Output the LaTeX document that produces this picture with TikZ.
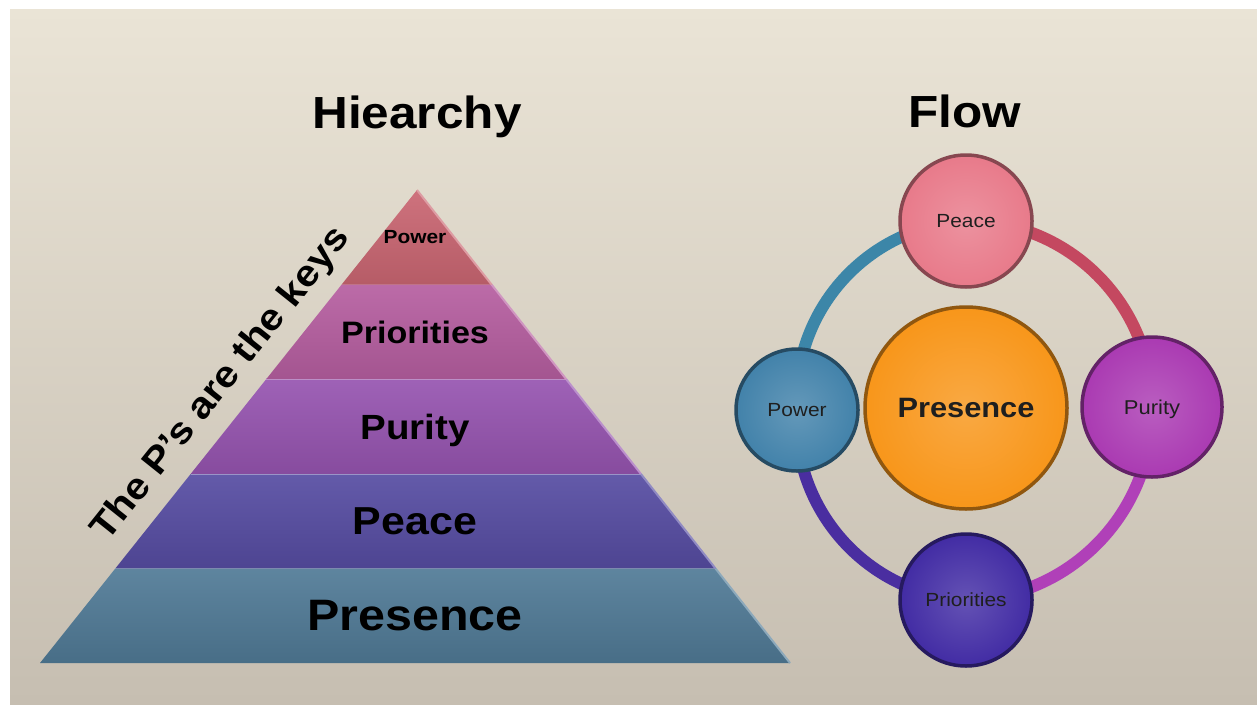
\documentclass[tikz,border=0pt]{standalone}
\usepackage{fontspec}
\setmainfont{Liberation Sans}[FakeStretch=1.1]
\usetikzlibrary{calc}
\definecolor{BgTop}{RGB}{234,228,214}
\definecolor{BgBot}{RGB}{198,190,177}
\definecolor{BandPower}{RGB}{202,102,114}
\definecolor{BandPrio}{RGB}{182,94,160}
\definecolor{BandPurity}{RGB}{150,84,176}
\definecolor{BandPeace}{RGB}{86,76,162}
\definecolor{BandPres}{RGB}{80,122,150}
\definecolor{BallPeace}{RGB}{232,122,138}
\definecolor{BallPower}{RGB}{66,130,170}
\definecolor{BallPurity}{RGB}{170,58,178}
\definecolor{BallPrio}{RGB}{66,44,164}
\definecolor{BallPres}{RGB}{248,150,26}
\definecolor{ArcBlue}{RGB}{60,134,168}
\definecolor{ArcRed}{RGB}{196,72,96}
\definecolor{ArcMag}{RGB}{176,64,184}
\definecolor{ArcInd}{RGB}{74,46,160}
\pgfdeclarelayer{back}
\pgfdeclarelayer{ring}
\pgfsetlayers{back,ring,main}

\begin{document}
\begin{tikzpicture}[x=1pt,y=-1pt,
    lbl/.style={text depth=0pt,inner sep=0pt},
    title/.style={font=\bfseries\fontsize{45}{45}\selectfont,anchor=base},
    pball/.style args={#1/#2}{circle,minimum size=#2,inner sep=0pt,line width=3.5pt,
      draw=#1!58!black,shade,inner color=#1!82!white,outer color=#1,text=black!88}]
\useasboundingbox (0,0) rectangle (1257,704);
\begin{pgfonlayer}{back}
  \fill[white] (0,0) rectangle (1257,704);
  \shade[top color=BgTop,bottom color=BgBot] (10,9) rectangle (1257,704);
\end{pgfonlayer}

\node[title] (hier) at (417,128) {Hiearchy};
\node[title] (flow) at (965,127) {Flow};

\coordinate (L) at (40,663);
\coordinate (R) at (790,663);
\coordinate (A) at (417,190);
\foreach \a/\b/\col/\name/\txt/\fs in {0/0.2/BandPres/bpres/Presence/44, 0.2/0.4/BandPeace/bpeace/Peace/39,
    0.4/0.6/BandPurity/bpur/Purity/35, 0.6/0.8/BandPrio/bprio/Priorities/31, 0.8/1/BandPower/bpow/Power/19} {
  \shade[top color=\col!92!white,bottom color=\col!90!black] ($(L)!\a!(A)$) -- ($(R)!\a!(A)$) -- ($(R)!\b!(A)$) -- ($(L)!\b!(A)$) -- cycle;
  \draw[\col!65!white,line width=2pt] ($(R)!\a!(A)$) -- ($(R)!\b!(A)$);
  \draw[\col!60!white,line width=1.5pt] ($(L)!\b!(A)$) -- ($(R)!\b!(A)$);
  \node[lbl,font=\bfseries\fontsize{\fs}{\fs}\selectfont] (\name) at (415,{663-473*(\a+\b)/2}) {\txt};
}
\coordinate (K) at ($(L)!0.547!(A)$);
\node[font=\bfseries\fontsize{37}{37}\selectfont,rotate=51.4,anchor=base,inner sep=0pt] (keys)
  at ($(K)!22pt!90:(A)$) {The P’s are the keys};

\node[pball=BallPres/202pt,lbl,font=\bfseries\fontsize{28}{28}\selectfont] (pres) at (966,408) {Presence};
\node[pball=BallPeace/132pt,lbl,font=\fontsize{19}{19}\selectfont] (peace) at (966,221) {Peace};
\node[pball=BallPower/122pt,lbl,font=\fontsize{19}{19}\selectfont] (pow) at (797,410) {Power};
\node[pball=BallPurity/140pt,lbl,font=\fontsize{20}{20}\selectfont] (pur) at (1152,407) {Purity};
\node[pball=BallPrio/132pt,lbl,font=\fontsize{19}{19}\selectfont] (prio) at (966,600) {Priorities};
\begin{pgfonlayer}{ring}
  \foreach \s/\t/\col in {pow/peace/ArcBlue, peace/pur/ArcRed, pur/prio/ArcMag, prio/pow/ArcInd}
    \draw[\col,line width=12pt] (\s.center) to[bend left=45] (\t.center);
\end{pgfonlayer}
\end{tikzpicture}
\end{document}
